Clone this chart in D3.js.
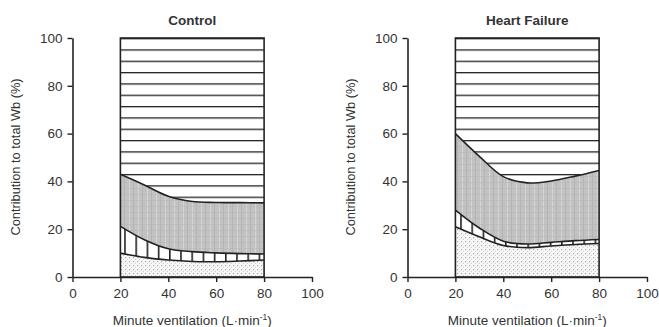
<!DOCTYPE html>
<html>
<head>
<meta charset="utf-8">
<script src="https://cdn.jsdelivr.net/npm/d3@7"></script>
<style>
  body { margin: 0; background: #fff; }
  svg text { font-family: "Liberation Sans", Arial, sans-serif; fill: #333; }
</style>
</head>
<body>
<div id="chart"></div>
<script>
// minute ventilation (L/min)
var ve = [20, 30, 40, 50, 60, 70, 80];

// control - cumulative boundaries (%)
var ctrlBottom = [10, 8.2, 7.1, 6.5, 6.4, 6.7, 7.1];
var ctrlMid = [21.2, 15.6, 11.8, 10.6, 10.1, 9.8, 9.6];
var ctrlTop = [43, 38.5, 33.8, 31.6, 31.2, 31.1, 31];

// heart failure - cumulative boundaries (%)
var hfBottom = [21, 16.8, 13.2, 12.3, 13, 13.6, 14];
var hfMid = [28, 20.5, 15, 13.8, 14.5, 15.2, 15.7];
var hfTop = [60, 50.5, 42, 39.4, 40.2, 42.2, 44.6];

var xTicks = [0, 20, 40, 60, 80, 100];
var yTicks = [0, 20, 40, 60, 80, 100];

var panels = [
    {title: "Control", left: 72.5, right: 312, bot: ctrlBottom, mid: ctrlMid, top: ctrlTop},
    {title: "Heart Failure", left: 407.5, right: 647, bot: hfBottom, mid: hfMid, top: hfTop}
];

var W = 659, H = 327;
var svg = d3.select("#chart").append("svg")
    .attr("width", W).attr("height", H);

var defs = svg.append("defs");

// horizontal hatch
var ph = defs.append("pattern").attr("id", "hlines")
    .attr("patternUnits", "userSpaceOnUse")
    .attr("width", 20).attr("height", 11.33).attr("y", 38);
ph.append("rect").attr("width", 20).attr("height", 11.33).attr("fill", "#fff");
ph.append("line").attr("x1", 0).attr("x2", 20).attr("y1", 0.5).attr("y2", 0.5)
    .attr("stroke", "#222").attr("stroke-width", 1.6);

// vertical hatch
var pv = defs.append("pattern").attr("id", "vlines")
    .attr("patternUnits", "userSpaceOnUse")
    .attr("width", 11.2).attr("height", 20).attr("x", 1);
pv.append("rect").attr("width", 11.2).attr("height", 20).attr("fill", "#fff");
pv.append("line").attr("x1", 0.8).attr("x2", 0.8).attr("y1", 0).attr("y2", 20)
    .attr("stroke", "#222").attr("stroke-width", 1.6);

// grey stipple
var pg = defs.append("pattern").attr("id", "grey")
    .attr("patternUnits", "userSpaceOnUse")
    .attr("width", 9).attr("height", 6);
pg.append("rect").attr("width", 9).attr("height", 6).attr("fill", "#c2c2c2");
pg.append("rect").attr("x", 3).attr("width", 1).attr("height", 6).attr("fill", "#d6d6d6");
pg.append("rect").attr("x", 7).attr("width", 1).attr("height", 6).attr("fill", "#b4b4b4");
pg.append("rect").attr("y", 2).attr("width", 9).attr("height", 1).attr("fill", "#b8b8b8").attr("opacity", 0.6);

// light dots
var pd = defs.append("pattern").attr("id", "dots")
    .attr("patternUnits", "userSpaceOnUse")
    .attr("width", 4).attr("height", 4);
pd.append("rect").attr("width", 4).attr("height", 4).attr("fill", "#f7f7f7");
pd.append("rect").attr("x", 1).attr("y", 1).attr("width", 1.2).attr("height", 1.2).attr("fill", "#a8a8a8");
pd.append("rect").attr("x", 3).attr("y", 3).attr("width", 1).attr("height", 1).attr("fill", "#cfcfcf");

var y = d3.scaleLinear().domain([0, 100]).range([277, 38]);

panels.forEach(function(p) {
    var x = d3.scaleLinear().domain([0, 100]).range([p.left, p.right]);
    var g = svg.append("g");

    var rows = ve.map(function(v, i) {
        return {v: v, b: p.bot[i], m: p.mid[i], t: p.top[i]};
    });
    var curve = d3.curveCatmullRom.alpha(0.5);

    function band(lo, hi) {
        return d3.area().curve(curve)
            .x(function(d) { return x(d.v); })
            .y0(function(d) { return y(lo(d)); })
            .y1(function(d) { return y(hi(d)); });
    }

    g.append("path").datum(rows).attr("fill", "url(#hlines)")
        .attr("d", band(function(d) { return d.t; }, function() { return 100; }));
    g.append("path").datum(rows).attr("fill", "url(#grey)")
        .attr("d", band(function(d) { return d.m; }, function(d) { return d.t; }));
    g.append("path").datum(rows).attr("fill", "url(#vlines)")
        .attr("d", band(function(d) { return d.b; }, function(d) { return d.m; }));
    g.append("path").datum(rows).attr("fill", "url(#dots)")
        .attr("d", band(function() { return 0; }, function(d) { return d.b; }));

    ["b", "m", "t"].forEach(function(k) {
        g.append("path").datum(rows)
            .attr("fill", "none").attr("stroke", "#222").attr("stroke-width", 1.6)
            .attr("d", d3.line().curve(curve)
                .x(function(d) { return x(d.v); })
                .y(function(d) { return y(d[k]); }));
    });

    // outline box
    g.append("rect")
        .attr("x", x(20)).attr("y", y(100))
        .attr("width", x(80) - x(20)).attr("height", y(0) - y(100))
        .attr("fill", "none").attr("stroke", "#222").attr("stroke-width", 1.6);

    // axes
    var xa = g.append("g").attr("transform", "translate(0," + y(0) + ")")
        .call(d3.axisBottom(x).tickValues(xTicks).tickSize(5).tickSizeOuter(0).tickPadding(6));
    var ya = g.append("g").attr("transform", "translate(" + x(0) + ",0)")
        .call(d3.axisLeft(y).tickValues(yTicks).tickSize(5).tickSizeOuter(0).tickPadding(5));
    [xa, ya].forEach(function(a) {
        a.select(".domain").attr("stroke", "#222").attr("stroke-width", 1.6);
        a.selectAll(".tick line").attr("stroke", "#222").attr("stroke-width", 1.4);
        a.selectAll(".tick text").style("font-size", "13.5px").attr("fill", "#333");
    });

    // title
    svg.append("text")
        .attr("x", (x(20) + x(80)) / 2).attr("y", 25)
        .attr("text-anchor", "middle")
        .style("font-size", "13.5px").style("font-weight", "bold")
        .attr("fill", "#222")
        .text(p.title);

    // y label
    svg.append("text")
        .attr("transform", "translate(" + (x(0) - 53) + "," + 157 + ") rotate(-90)")
        .attr("text-anchor", "middle")
        .style("font-size", "12.8px")
        .attr("fill", "#444")
        .text("Contribution to total Wb (%)");

    // x label
    var xl = svg.append("text")
        .attr("x", x(50)).attr("y", 325)
        .attr("text-anchor", "middle")
        .style("font-size", "13.5px")
        .attr("fill", "#444");
    xl.append("tspan").text("Minute ventilation (L\u00B7min");
    xl.append("tspan").attr("dy", -5).style("font-size", "8.5px").text("-1");
    xl.append("tspan").attr("dy", 5).text(")");
});
</script>
</body>
</html>
